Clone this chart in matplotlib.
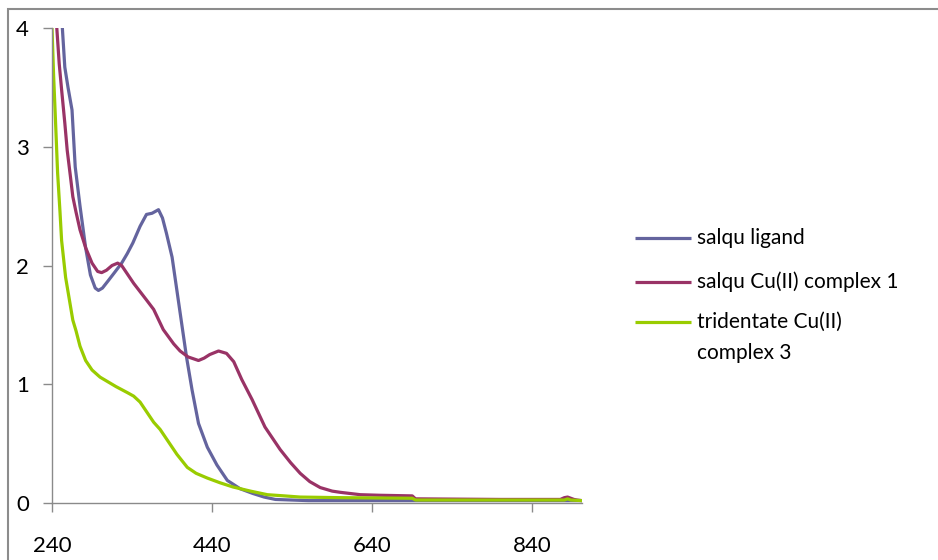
import matplotlib
matplotlib.use("Agg")
import matplotlib.pyplot as plt
from matplotlib.lines import Line2D
from matplotlib.patches import Rectangle

# Absorption spectra (wavelength in nm, absorbance)
ligand_nm = [248, 252, 256, 260, 265, 269, 275, 282, 288, 294, 298, 303, 310, 318,
             327, 334, 341, 350, 358, 365, 373, 378, 383, 390, 396, 402, 408, 415,
             423, 434, 446, 459, 475, 491, 505, 519, 560, 700, 902]
ligand_abs = [4.6, 4.1, 3.67, 3.5, 3.31, 2.83, 2.5, 2.15, 1.92, 1.81, 1.79, 1.81, 1.87, 1.94,
              2.02, 2.1, 2.19, 2.33, 2.43, 2.44, 2.47, 2.40, 2.27, 2.07, 1.79, 1.51, 1.23, 0.95,
              0.67, 0.47, 0.32, 0.19, 0.12, 0.08, 0.05, 0.03, 0.02, 0.02, 0.02]

cu1_nm = [243, 246, 249, 252, 256, 259, 263, 266, 270, 275, 282, 290, 297, 302, 308,
          315, 322, 327, 335, 342, 350, 358, 367, 379, 392, 400, 410, 423, 430, 437,
          448, 458, 467, 477, 490, 506, 525, 538, 550, 562, 575, 590, 600, 625, 650,
          690, 694, 800, 875, 880, 884, 888, 892, 896, 902]
cu1_abs = [4.5, 4.0, 3.7, 3.48, 3.2, 2.97, 2.75, 2.58, 2.45, 2.3, 2.15, 2.02, 1.95, 1.94, 1.96,
           2.0, 2.02, 2.0, 1.92, 1.85, 1.78, 1.71, 1.63, 1.46, 1.34, 1.28, 1.23, 1.20, 1.22, 1.25,
           1.28, 1.26, 1.19, 1.04, 0.87, 0.64, 0.45, 0.34, 0.25, 0.18, 0.13, 0.10, 0.09, 0.07, 0.065,
           0.06, 0.035, 0.03, 0.03, 0.045, 0.05, 0.04, 0.03, 0.025, 0.02]

cu3_nm = [240, 242, 244, 247, 250, 252, 257, 262, 266, 270, 275, 282, 290, 300, 310,
          320, 334, 342, 350, 359, 367, 375, 384, 396, 409, 420, 434, 450, 466, 488,
          509, 530, 550, 600, 690, 694, 880, 884, 888, 902]
cu3_abs = [4.0, 3.6, 3.28, 2.78, 2.45, 2.21, 1.9, 1.7, 1.54, 1.45, 1.32, 1.2, 1.12, 1.06, 1.02,
           0.98, 0.93, 0.9, 0.85, 0.76, 0.68, 0.62, 0.53, 0.41, 0.30, 0.25, 0.21, 0.17, 0.135, 0.10,
           0.07, 0.06, 0.05, 0.045, 0.04, 0.025, 0.025, 0.035, 0.025, 0.02]

series_labels = ["salqu ligand", "salqu Cu(II) complex 1", "tridentate Cu(II)\ncomplex 3"]
series_colors = ["#64649E", "#993366", "#99CC00"]

x_ticks = [240, 440, 640, 840]
y_ticks = [0, 1, 2, 3, 4]

plt.rcParams["font.family"] = ["Lato", "DejaVu Sans"]

W, H = 938, 560
fig = plt.figure(figsize=(W / 100, H / 100), dpi=100)
ax = fig.add_axes([52 / W, 1 - 503 / H, (582 - 52) / W, (503 - 28) / H])

lines = []
for xs, ys, c in zip([ligand_nm, cu1_nm, cu3_nm],
                     [ligand_abs, cu1_abs, cu3_abs], series_colors):
    ln, = ax.plot(xs, ys, color=c, lw=2.3, solid_joinstyle="round",
                  solid_capstyle="round")
    lines.append(ln)

ax.set_xlim(240, 902)
ax.set_ylim(0, 4)
ax.set_xticks(x_ticks)
ax.set_yticks(y_ticks)
for s in ("top", "right"):
    ax.spines[s].set_visible(False)
for s in ("left", "bottom"):
    ax.spines[s].set_color("#8a8a8a")
    ax.spines[s].set_linewidth(1.0)
ax.tick_params(axis="both", direction="out", length=6.5, width=1.0,
               color="#8a8a8a", labelsize=16, labelcolor="black")
ax.tick_params(axis="x", pad=17)
ax.tick_params(axis="y", pad=10)

# legend entries to the right of the plot area
legend_rows = [238, 282, 322]
for ln, label, row in zip(lines, series_labels, legend_rows):
    yf = 1 - row / H
    fig.add_artist(Line2D([635 / W, 691 / W], [yf, yf], transform=fig.transFigure,
                          color=ln.get_color(), lw=2.3, solid_capstyle="butt"))
    first, *rest = label.split("\n")
    fig.text(697 / W, yf, first, fontsize=15, va="center", ha="left")
    for i, extra in enumerate(rest, start=1):
        fig.text(697 / W, 1 - (row + 31 * i) / H, extra, fontsize=15,
                 va="center", ha="left")

# chart frame
fig.add_artist(Rectangle((8 / W, -0.1), 1.2, 1 - 9 / H + 0.1, transform=fig.transFigure,
                         fill=False, edgecolor="#8c8c8c", lw=1.5))

fig.savefig("out.png", dpi=100)
